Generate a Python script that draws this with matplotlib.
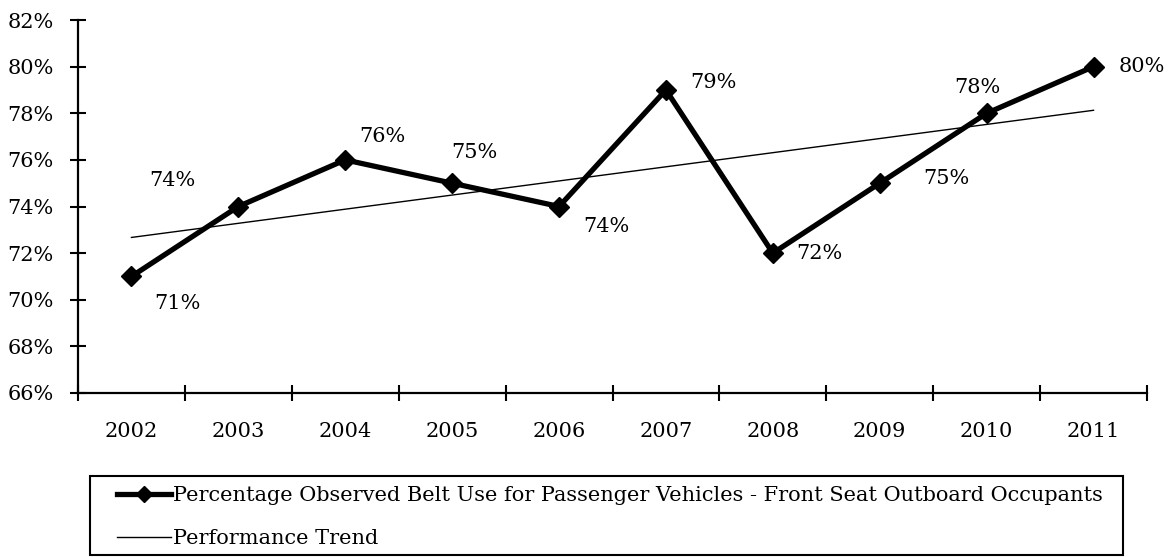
import numpy as np
import matplotlib.pyplot as plt
from matplotlib.patches import Rectangle

years = ['2002', '2003', '2004', '2005', '2006', '2007', '2008', '2009', '2010', '2011']
belt_use = [71, 74, 76, 75, 74, 79, 72, 75, 78, 80]
# label offsets in pixels (dx, dy)
label_offsets = [(46, -27), (-66, 26), (37, 23), (22, 31), (47, -20),
                 (47, 7), (47, 0), (67, 5), (-9, 26), (48, 0)]
y_ticks = [66, 68, 70, 72, 74, 76, 78, 80, 82]

plt.rcParams['font.family'] = 'DejaVu Serif'
fs = 15

fig = plt.figure(figsize=(11.74, 5.57), dpi=100)
ax = fig.add_axes([78/1174, 1 - 393/557, (1147 - 78)/1174, (393 - 20)/557])

x = np.arange(len(years))
ax.plot(x, belt_use, color='black', lw=3.8, marker='D', ms=10, zorder=3,
        label='Percentage Observed Belt Use for Passenger Vehicles - Front Seat Outboard Occupants')

# linear trend line
slope, intercept = np.polyfit(x, belt_use, 1)
ax.plot(x, slope * x + intercept, color='black', lw=1.0, zorder=2, label='Performance Trend')

for xi, v, (dx, dy) in zip(x, belt_use, label_offsets):
    ax.annotate(f'{v}%', (xi, v), xytext=(dx * 0.72, dy * 0.72), textcoords='offset points',
                ha='center', va='center', fontsize=fs)

ax.set_xlim(-0.5, len(years) - 0.5)
ax.set_ylim(66, 82)
ax.set_yticks(y_ticks)
ax.set_yticklabels([f'{t}%' for t in y_ticks], fontsize=fs)
ax.set_xticks(x)
ax.set_xticklabels(years, fontsize=fs)
ax.set_xticks(np.arange(-0.5, len(years)), minor=True)
ax.tick_params(axis='x', which='major', length=0, pad=21)
ax.tick_params(axis='x', which='minor', direction='inout', length=12, width=1.5)
ax.tick_params(axis='y', direction='inout', length=11, width=1.5, pad=12)

for s in ['top', 'right']:
    ax.spines[s].set_visible(False)
for s in ['left', 'bottom']:
    ax.spines[s].set_linewidth(1.6)

# legend with a separate frame
fig.patches.append(Rectangle((90/1174, 1 - 555/557), (1123 - 90)/1174, (555 - 476)/557,
                             transform=fig.transFigure, fill=False, lw=1.5, ec='black'))
fig.legend(loc='upper left', bbox_to_anchor=(117/1174, 1 - 486/557), frameon=False,
           borderpad=0, borderaxespad=0, handlelength=2.6, handletextpad=0.1,
           labelspacing=1.15, numpoints=1, fontsize=fs, markerscale=0.8)

fig.savefig('out.png', dpi=100)
